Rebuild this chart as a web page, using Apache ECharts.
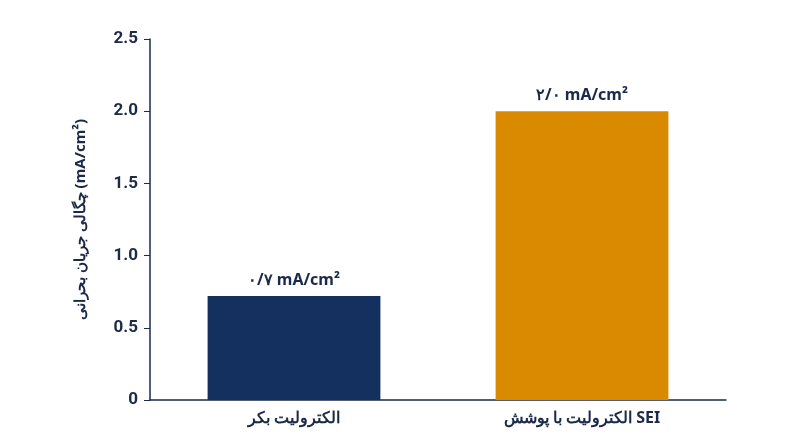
<!DOCTYPE html>
<html><head><meta charset="utf-8">
<script src="https://cdn.jsdelivr.net/npm/echarts@6/dist/echarts.min.js"></script>
<style>html,body{margin:0;padding:0;background:#fff}#c{width:800px;height:447px}</style>
</head><body><div id="c"></div>
<script>
const categories = ['الکترولیت بکر', 'الکترولیت با پوشش SEI'];
const values = [0.72, 2.0];
const valueLabels = ['۰/۷ mA/cm²', '۲/۰ mA/cm²'];
const colors = ['#14305e', '#d98a00'];
const yTicks = [0, 0.5, 1.0, 1.5, 2.0, 2.5];
const chart = echarts.init(document.getElementById('c'));
const txt = '#1b2a4a';
chart.setOption({
  animation: false,
  grid: {left: 150, right: 74, top: 39, bottom: 47},
  xAxis: {type: 'category', data: categories,
    axisLine: {lineStyle: {color: txt, width: 1.5}}, axisTick: {show: false},
    axisLabel: {color: txt, fontSize: 16, fontWeight: 'bold', fontFamily: 'Noto Sans', margin: 10}},
  yAxis: {type: 'value', min: 0, max: 2.5, interval: 0.5,
    name: 'چگالی جریان بحرانی (mA/cm²)', nameLocation: 'middle', nameGap: 62, nameRotate: 90,
    nameTextStyle: {color: txt, fontSize: 15, fontWeight: 'bold', fontFamily: 'Noto Sans'},
    axisLine: {show: true, lineStyle: {color: txt, width: 1.5}},
    axisTick: {show: true, length: 6, lineStyle: {color: txt}},
    splitLine: {show: false},
    axisLabel: {color: txt, fontSize: 17, fontWeight: 'bold', fontFamily: 'Roboto', margin: 12,
      formatter: v => yTicks.includes(v) ? (v === 0 ? '0' : v.toFixed(1)) : ''}},
  series: [{type: 'bar', barWidth: '60%',
    data: values.map((v, i) => ({value: v, itemStyle: {color: colors[i]}})),
    label: {show: true, position: 'top', distance: 8, color: txt, fontSize: 16, fontWeight: 'bold',
      fontFamily: 'Noto Sans', formatter: p => valueLabels[p.dataIndex]}}]
});
</script></body></html>
